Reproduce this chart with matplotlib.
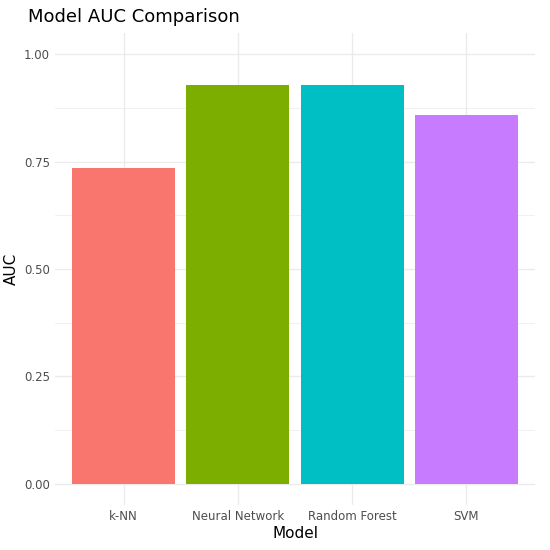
import matplotlib.pyplot as plt

models = ["k-NN", "Neural Network", "Random Forest", "SVM"]
auc = [0.736, 0.929, 0.929, 0.860]
colors = ["#F8766D", "#7CAE00", "#00BFC4", "#C77CFF"]

fig = plt.figure(figsize=(5.5, 5.5), dpi=100)
ax = fig.add_axes([55/550, 1-505/550, 480/550, 472/550])
ax.bar(range(1, 5), auc, width=0.9, color=colors, zorder=2)
ax.set_xlim(0.4, 4.6)
ax.set_ylim(-0.05, 1.05)
ax.set_xticks(range(1, 5))
ax.set_xticklabels(models)
ax.set_yticks([0, 0.25, 0.5, 0.75, 1.0])
ax.set_yticklabels(["0.00", "0.25", "0.50", "0.75", "1.00"])
ax.set_yticks([0.125, 0.375, 0.625, 0.875], minor=True)
ax.grid(True, which="major", color="#EBEBEB", linewidth=1.0, zorder=0)
ax.grid(True, which="minor", axis="y", color="#EBEBEB", linewidth=0.5, zorder=0)
ax.tick_params(which="both", length=0, colors="#4D4D4D", labelsize=8.5)
for s in ax.spines.values():
    s.set_visible(False)
ax.set_xlabel("Model", fontsize=11, labelpad=2)
ax.set_ylabel("AUC", fontsize=11, labelpad=4)
fig.text(28/550, 1-17/550, "Model AUC Comparison", fontsize=13, va="center")
fig.savefig("out.png", dpi=100)
